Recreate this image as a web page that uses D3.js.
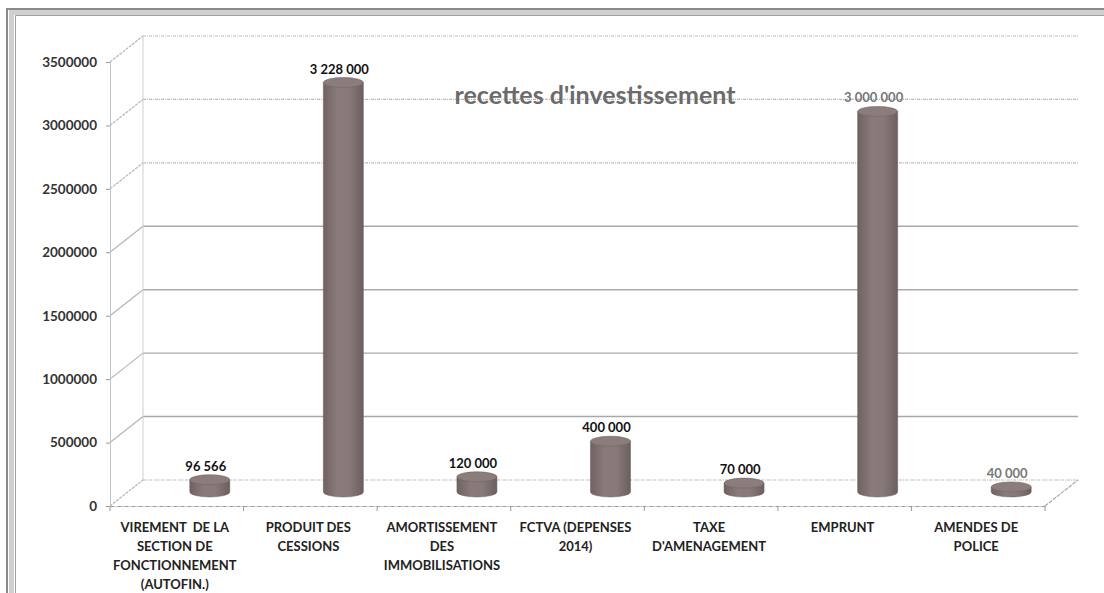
<!DOCTYPE html>
<html lang="fr">
  <head>
    <meta charset="utf-8">
    <title>recettes d'investissement</title>
    <style type="text/css">
      body { margin: 0; background: #fff; }
      text { font-family: "Lato", "Open Sans", sans-serif; }
      text.tickLabel { font-size: 13.5px; font-weight: bold; fill: #333; }
      text.catLabel { font-size: 13px; font-weight: bold; fill: #222; }
      text.valLabel { font-size: 13px; font-weight: bold; }
      text.title { font-size: 25px; font-weight: bold; fill: #6b6b6b; }
    </style>
  </head>
  <body>
    <script src="https://cdnjs.cloudflare.com/ajax/libs/d3/7.8.5/d3.min.js"></script>
    <script type="text/javascript">

      // chart data
      const categories = [
        "VIREMENT  DE LA\nSECTION DE\nFONCTIONNEMENT\n(AUTOFIN.)",
        "PRODUIT DES\nCESSIONS",
        "AMORTISSEMENT\nDES\nIMMOBILISATIONS",
        "FCTVA (DEPENSES\n2014)",
        "TAXE\nD'AMENAGEMENT",
        "EMPRUNT",
        "AMENDES DE\nPOLICE"
      ];
      const values = [96566, 3228000, 120000, 400000, 70000, 3000000, 40000];
      const yTicks = [0, 500000, 1000000, 1500000, 2000000, 2500000, 3000000, 3500000];
      const title = "recettes d'investissement";

      const width = 1104, height = 593;

      // 3d offsets of the back wall and of the bars
      const depthX = 33, depthY = -26;
      const barX = 33, barY = -14;
      const barRx = 20, barRy = 5;

      var svg = d3.select("body")
                  .append("svg")
                  .attr("width", width)
                  .attr("height", height);

      // frame around the scanned chart
      svg.append("path")
         .attr("d", "M7,593 L7,9 L1104,9")
         .attr("fill", "none")
         .attr("stroke", "#8a8a8a")
         .attr("stroke-width", 2);
      svg.append("path")
         .attr("d", "M11.5,593 L11.5,12.5 L1104,12.5")
         .attr("fill", "none")
         .attr("stroke", "#d0d0d0")
         .attr("stroke-width", 5);
      svg.append("path")
         .attr("d", "M15.5,593 L15.5,15.5 L1104,15.5")
         .attr("fill", "none")
         .attr("stroke", "#a0a0a0")
         .attr("stroke-width", 1);

      // scales
      var yScale = d3.scaleLinear()
                     .domain([0, 3500000])
                     .range([506, 62]);

      var xScale = d3.scaleBand()
                     .domain(categories)
                     .range([110, 1045]);

      const x0 = xScale.range()[0], x1 = xScale.range()[1];

      // walls: gridlines on back wall and side wall
      var grid = svg.append("g").attr("class", "grid");
      yTicks.forEach(function(t) {
        const yf = yScale(t), yb = yScale(t) + depthY;
        const faint = (t === 0 || t > 2000000);
        grid.append("line")
            .attr("x1", x0 + depthX).attr("x2", x1 + depthX)
            .attr("y1", yb).attr("y2", yb)
            .attr("stroke", faint ? "#b9b9b9" : "#a9a9a9")
            .attr("stroke-width", faint ? 1.2 : 1.4)
            .attr("stroke-dasharray", faint ? "3,1,1,1" : null);
        grid.append("line")
            .attr("x1", x0).attr("x2", x0 + depthX)
            .attr("y1", yf).attr("y2", yb)
            .attr("stroke", "#b5b5b5")
            .attr("stroke-width", 1.2)
            .attr("stroke-dasharray", faint ? "3,1" : null);
      });

      // back edge of side wall and right edge of floor
      grid.append("line")
          .attr("x1", x0 + depthX).attr("x2", x0 + depthX)
          .attr("y1", yScale(0) + depthY).attr("y2", yScale(3500000) + depthY)
          .attr("stroke", "#cfcfcf");
      grid.append("line")
          .attr("x1", x1).attr("x2", x1 + depthX)
          .attr("y1", yScale(0)).attr("y2", yScale(0) + depthY)
          .attr("stroke", "#a8a8a8")
          .attr("stroke-width", 1.2)
          .attr("stroke-dasharray", "4,1");

      // y axis
      var yAxis = d3.axisLeft(yScale)
                    .tickValues(yTicks)
                    .tickFormat(d3.format("d"))
                    .tickSize(4)
                    .tickPadding(9);

      var yg = svg.append("g")
                  .attr("transform", "translate(" + x0 + ",0)")
                  .call(yAxis);
      yg.select(".domain").attr("stroke", "#c4c4c4");
      yg.selectAll(".tick line").attr("stroke", "#999");
      yg.selectAll(".tick text").attr("class", "tickLabel").attr("fill", null)
        .attr("font-family", null).attr("font-size", null);

      // x axis (front edge of floor)
      var xAxis = d3.axisBottom(xScale)
                    .tickSize(0)
                    .tickFormat("");
      var xg = svg.append("g")
                  .attr("transform", "translate(0," + yScale(0) + ")")
                  .call(xAxis);
      xg.select(".domain")
        .attr("stroke", "#9a9a9a")
        .attr("stroke-width", 1.2)
        .attr("stroke-dasharray", "4,1,1,1");

      // category boundary ticks
      const bounds = categories.map(function(c) { return xScale(c); }).concat([x1]);
      xg.selectAll("line.bound")
        .data(bounds)
        .enter()
        .append("line")
        .attr("class", "bound")
        .attr("x1", function(d) { return d; })
        .attr("x2", function(d) { return d; })
        .attr("y1", 0).attr("y2", 5)
        .attr("stroke", "#999");

      // category labels
      var cat = svg.selectAll("text.catLabel")
                   .data(categories)
                   .enter()
                   .append("text")
                   .attr("class", "catLabel")
                   .attr("text-anchor", "middle")
                   .attr("transform", function(d) {
                     return "translate(" + (xScale(d) + xScale.bandwidth() / 2 - 2) + "," + (yScale(0) + 26) + ")";
                   });
      cat.selectAll("tspan")
         .data(function(d) { return d.split("\n"); })
         .enter()
         .append("tspan")
         .attr("x", 0)
         .attr("y", function(d, i) { return i * 19; })
         .attr("xml:space", "preserve")
         .text(function(d) { return d; });

      // cylinder shading
      var defs = svg.append("defs");
      var grad = defs.append("linearGradient")
                     .attr("id", "cyl")
                     .attr("x1", "0%").attr("x2", "100%")
                     .attr("y1", "0%").attr("y2", "0%");
      grad.append("stop").attr("offset", "0%").attr("stop-color", "#706262");
      grad.append("stop").attr("offset", "35%").attr("stop-color", "#8a7b7b");
      grad.append("stop").attr("offset", "65%").attr("stop-color", "#887979");
      grad.append("stop").attr("offset", "100%").attr("stop-color", "#6c5f5f");

      const barCenter = function(c) { return xScale(c) + xScale.bandwidth() / 2 + barX; };
      const backLines = yTicks.map(function(t) { return yScale(t) + depthY; });

      // cylinders
      var bars = svg.selectAll("g.bar")
                    .data(values)
                    .enter()
                    .append("g")
                    .attr("class", "bar");

      bars.append("path")
          .attr("d", function(d, i) {
            const cx = barCenter(categories[i]);
            const top = yScale(d) + barY;
            const base = yScale(0) + barY;
            return "M" + (cx - barRx) + "," + top +
                   " L" + (cx - barRx) + "," + base +
                   " A" + barRx + "," + barRy + " 0 0 0 " + (cx + barRx) + "," + base +
                   " L" + (cx + barRx) + "," + top + " Z";
          })
          .attr("fill", "url(#cyl)")
          .attr("stroke", "#665858")
          .attr("stroke-width", 0.5);

      bars.append("ellipse")
          .attr("cx", function(d, i) { return barCenter(categories[i]); })
          .attr("cy", function(d) { return yScale(d) + barY; })
          .attr("rx", barRx)
          .attr("ry", barRy)
          .attr("fill", "#8c7d7d")
          .attr("stroke", "#736565")
          .attr("stroke-width", 0.6);

      // value labels
      const fmt = function(v) { return d3.format(",")(v).replace(/,/g, " "); };
      bars.append("text")
          .attr("class", "valLabel")
          .attr("text-anchor", "middle")
          .attr("x", function(d, i) { return barCenter(categories[i]) - 4; })
          .attr("y", function(d) { return yScale(d) + barY - barRy - 4; })
          .attr("fill", function(d) {
            // labels crossing a back gridline look washed out in the original
            const yl = yScale(d) + barY - barRy - 8;
            return backLines.some(function(b) { return Math.abs(b - yl) < 7; }) ? "#777" : "#111";
          })
          .text(function(d) { return fmt(d); });

      // title
      svg.append("text")
         .attr("class", "title")
         .attr("x", 595)
         .attr("y", 104)
         .attr("text-anchor", "middle")
         .text(title);

    </script>
  </body>
</html>
